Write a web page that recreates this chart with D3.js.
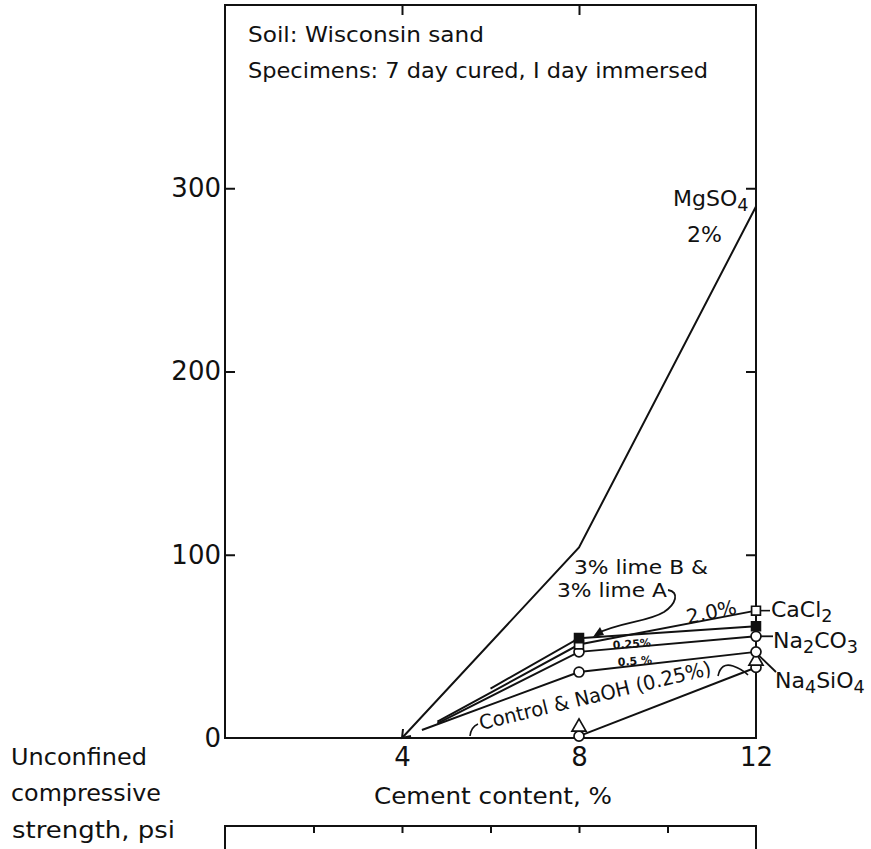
<!DOCTYPE html>
<html>
<head>
<meta charset="utf-8">
<script src="https://cdn.jsdelivr.net/npm/d3@7"></script>
<style>
  body { margin: 0; background: #fff; }
  svg text { font-family: "DejaVu Sans", sans-serif; fill: #111; }
</style>
</head>
<body>
<script>
// cement content (%) vs unconfined compressive strength (psi)
var xTicks = [4, 8, 12],
    yTicks = [0, 100, 200, 300];

var mgso4   = [[4, 0], [8, 104], [12, 290]];
var cacl2   = [[4.8, 9], [8, 51], [12, 69.5]];
var lime    = [[6, 27], [8, 54.5], [12, 61]];
var na2co3  = [[4.8, 8], [8, 47], [12, 55.5]];
var na4sio4 = [[4.45, 4.4], [8, 36], [12, 47]];
var control = [[8, 1], [12, 38.5]];
var naoh    = [[8, 6], [12, 42]];

var w = 871, h = 849;

var svg = d3.select("body").append("svg")
    .attr("width", w)
    .attr("height", h);

var x = d3.scaleLinear().domain([0, 12]).range([225, 756]);
var y = d3.scaleLinear().domain([0, 400]).range([738, 5]);

var ink = "#111";

// frame
svg.append("rect")
    .attr("x", x(0)).attr("y", y(400))
    .attr("width", x(12) - x(0)).attr("height", y(0) - y(400))
    .attr("fill", "none").attr("stroke", ink).attr("stroke-width", 2);

function styleAxis(g) {
    g.select(".domain").remove();
    g.selectAll("line").attr("stroke", ink).attr("stroke-width", 2);
    g.selectAll("text")
        .attr("font-family", "DejaVu Sans, sans-serif")
        .attr("font-size", 26)
        .attr("fill", ink);
}

svg.append("g")
    .attr("transform", "translate(" + x(0) + ",0)")
    .call(d3.axisLeft(y).tickValues(yTicks).tickSize(-10).tickPadding(4))
    .call(styleAxis)
    .selectAll(".tick").filter(function (d) { return d == 0; }).select("line").remove();

svg.append("g")
    .attr("transform", "translate(" + x(12) + ",0)")
    .call(d3.axisRight(y).tickValues([100, 200, 300]).tickSize(-10).tickFormat(""))
    .call(styleAxis);

svg.append("g")
    .attr("transform", "translate(0," + y(0) + ")")
    .call(d3.axisBottom(x).tickValues(xTicks).tickSize(0).tickPadding(10))
    .call(styleAxis);

svg.append("g")
    .attr("transform", "translate(0," + y(400) + ")")
    .call(d3.axisTop(x).tickValues([4, 8]).tickSize(-10).tickFormat(""))
    .call(styleAxis);

// top edge of the next chart below
var nextTop = 826;
svg.append("path")
    .attr("d", "M" + x(0) + "," + h + "V" + nextTop + "H" + x(12) + "V" + h)
    .attr("fill", "none").attr("stroke", ink).attr("stroke-width", 2);
svg.append("g")
    .attr("transform", "translate(0," + nextTop + ")")
    .call(d3.axisBottom(x).tickValues([2, 4, 6, 8, 10]).tickSize(7).tickFormat(""))
    .call(styleAxis);

// lines
var line = d3.line()
    .x(function (d) { return x(d[0]); })
    .y(function (d) { return y(d[1]); });

[mgso4, cacl2, lime, na2co3, na4sio4, control].forEach(function (s) {
    svg.append("path")
        .datum(s)
        .attr("d", line)
        .attr("fill", "none")
        .attr("stroke", ink)
        .attr("stroke-width", 2);
});

// little arrow tip at the foot of the MgSO4 line
var tip = [x(mgso4[0][0]), y(mgso4[0][1])];
svg.append("path")
    .attr("d", "M" + (tip[0] + 1) + "," + (tip[1] - 9) + "L" + tip[0] + "," + tip[1] + "L" + (tip[0] + 9) + "," + (tip[1] - 2))
    .attr("fill", "none").attr("stroke", ink).attr("stroke-width", 2);

// markers
function marks(data, type, filled) {
    svg.append("g").selectAll("path")
        .data(data.filter(function (d) { return d[0] >= 8; }))
        .enter().append("path")
        .attr("transform", function (d) { return "translate(" + x(d[0]) + "," + y(d[1]) + ")"; })
        .attr("d", d3.symbol().type(type).size(type == d3.symbolTriangle ? 85 : 78))
        .attr("fill", filled ? ink : "#fff")
        .attr("stroke", ink)
        .attr("stroke-width", 1.7);
}
marks(control, d3.symbolCircle, false);
marks(naoh, d3.symbolTriangle, false);
marks(na4sio4, d3.symbolCircle, false);
marks(na2co3, d3.symbolCircle, false);
marks(cacl2, d3.symbolSquare, false);
marks(lime, d3.symbolSquare, true);

// annotations
function label(txt, px, py, size, opts) {
    opts = opts || {};
    var t = svg.append("text")
        .attr("x", px).attr("y", py)
        .attr("font-size", size)
        .attr("text-anchor", opts.anchor || "start");
    if (opts.rotate) t.attr("transform", "rotate(" + opts.rotate + "," + px + "," + py + ")");
    if (opts.weight) t.attr("font-weight", opts.weight);
    if (opts.len) t.attr("textLength", opts.len).attr("lengthAdjust", "spacingAndGlyphs");
    return t.text(txt);
}
function chem(parts, px, py, size) {
    var t = svg.append("text").attr("x", px).attr("y", py).attr("font-size", size);
    parts.forEach(function (p) {
        if (p[1]) t.append("tspan").attr("dy", 5).attr("font-size", size * 0.8).text(p[0]);
        else t.append("tspan").attr("dy", p[2] ? -5 : 0).text(p[0]);
    });
    return t;
}

label("Soil: Wisconsin sand", 248, 42, 21, { len: 236 });
label("Specimens: 7 day cured, I day immersed", 248, 78, 21, { len: 460 });

label("Cement content, %", 493, 804, 23, { anchor: "middle", len: 238 });
label("Unconfined", 11, 765, 23, { len: 136 });
label("compressive", 11, 801, 23, { len: 150 });
label("strength, psi", 12, 838, 23, { len: 163 });

chem([["MgSO"], ["4", true]], 673, 206, 22);
label("2%", 687, 242, 22);

label("3% lime B &", 574, 574, 19, { len: 134 });
label("3% lime A", 557, 597, 19, { len: 110 });
svg.append("path")
    .attr("d", "M668,590 C680,592 676,604 664,612 C648,622 620,622 596,634")
    .attr("fill", "none").attr("stroke", ink).attr("stroke-width", 1.8);
svg.append("path")
    .attr("d", "M593,637 L600,627 L604,635 Z")
    .attr("fill", ink);

label("2.0%", 688, 624, 20, { rotate: -12 });
label("0.25%", 613, 649, 11, { rotate: -4, weight: "bold" });
label("0.5 %", 618, 666, 11, { rotate: -4, weight: "bold" });

chem([["CaCl"], ["2", true]], 771, 617, 22);
chem([["Na"], ["2", true], ["CO", false, true], ["3", true]], 773, 648, 22);
chem([["Na"], ["4", true], ["SiO", false, true], ["4", true]], 775, 688, 22);

// leaders to the right-hand labels
svg.append("path").attr("d", "M" + (x(12) + 4) + "," + y(69.5) + "H770")
    .attr("stroke", ink).attr("stroke-width", 1.6);
svg.append("path").attr("d", "M" + (x(12) + 4) + "," + y(55.5) + "H773")
    .attr("stroke", ink).attr("stroke-width", 1.8);
svg.append("path").attr("d", "M" + (x(12) + 3) + "," + y(45) + "L776,672")
    .attr("stroke", ink).attr("stroke-width", 1.8);

label("Control & NaOH (0.25%)", 481, 730, 20, { rotate: -13.5, len: 238 });
svg.append("path")
    .attr("d", "M478,724 Q471,727 470,736")
    .attr("fill", "none").attr("stroke", ink).attr("stroke-width", 1.6);
svg.append("path")
    .attr("d", "M718,676 Q721,662 733,666 Q742,669 748,675")
    .attr("fill", "none").attr("stroke", ink).attr("stroke-width", 1.6);
</script>
</body>
</html>
